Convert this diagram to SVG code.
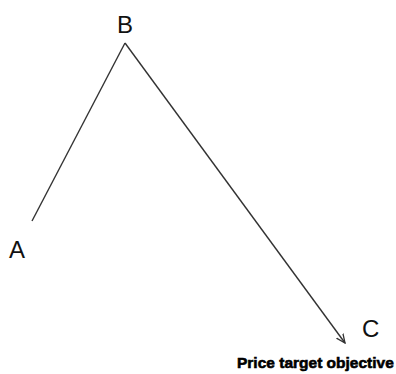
<svg xmlns="http://www.w3.org/2000/svg" width="396" height="374" viewBox="0 0 396 374">
<style>
.lbl{font-family:"Liberation Sans",Arial,sans-serif;font-size:24px;fill:#111}
.cap{font-family:"Liberation Sans",Arial,sans-serif;font-size:15.5px;font-weight:bold;fill:#000;stroke:#000;stroke-width:0.6}
.ln{stroke:#333;stroke-width:1.4;fill:none}
</style>
<defs>
<marker id="ah" markerWidth="10" markerHeight="10" refX="9" refY="5" orient="auto" markerUnits="userSpaceOnUse">
<path d="M0,1 L9,5 L0,9" fill="none" stroke="#333" stroke-width="1.3"/>
</marker>
</defs>
<rect width="396" height="374" fill="#fff"/>
<g id="connectors">
<line class="ln" x1="32" y1="221" x2="125" y2="43"/>
<line class="ln" x1="125" y1="43" x2="345" y2="343" marker-end="url(#ah)"/>
</g>
<g id="A"><text class="lbl" x="9" y="258">A</text></g>
<g id="B"><text class="lbl" x="117" y="33">B</text></g>
<g id="C"><text class="lbl" x="362" y="337">C</text></g>
<g id="caption"><text class="cap" x="237" y="368">Price target objective</text></g>
</svg>
